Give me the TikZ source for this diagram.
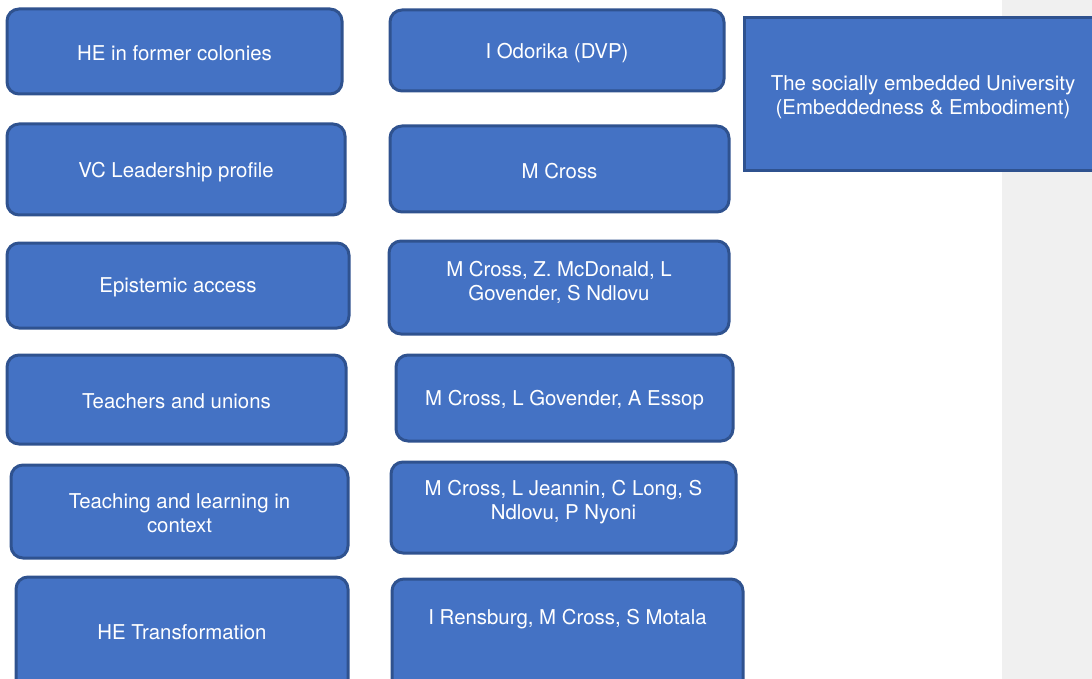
\documentclass[tikz,border=0pt]{standalone}
\usepackage{fontspec}
\setmainfont{TeX Gyre Heros}
\definecolor{boxfill}{HTML}{4472C4}
\definecolor{boxline}{HTML}{2F528F}
\definecolor{sidegray}{HTML}{F0F0F0}
\tikzset{
  rbox/.style={draw=boxline, fill=boxfill, line width=3pt, rounded corners=12pt, inner sep=0pt},
  sbox/.style={draw=boxline, fill=boxfill, line width=3pt, inner sep=0pt},
  txt/.style={text=white, align=center, inner sep=0pt, yshift=-1.5pt, font=\fontsize{20.4}{24}\selectfont}
}
\begin{document}
\begin{tikzpicture}[x=1pt,y=-1pt]
\useasboundingbox (0,0) rectangle (1092,679);
\fill[sidegray] (1002,0) rectangle (1092,679);
% left column
\node[rbox, minimum width=335pt, minimum height=85pt] (l1) at (174.5,51.5) {};
\node[txt] (l1t) at (174.5,52) {HE in former colonies};
\node[rbox, minimum width=338pt, minimum height=91pt] (l2) at (176,169.5) {};
\node[txt] (l2t) at (176,171) {VC Leadership profile};
\node[rbox, minimum width=342pt, minimum height=85pt] (l3) at (178,285.5) {};
\node[txt] (l3t) at (178,286) {Epistemic access};
\node[rbox, minimum width=339pt, minimum height=89pt] (l4) at (176.5,399.5) {};
\node[txt] (l4t) at (176.5,400) {Teachers and unions};
\node[rbox, minimum width=337pt, minimum height=93pt] (l5) at (179.5,511.5) {};
\node[txt] (l5t) at (179.5,512) {Teaching and learning in\\context};
\node[rbox, minimum width=332pt, minimum height=120pt] (l6) at (182,637) {};
\node[txt] (l6t) at (182,631) {HE Transformation};
% middle column
\node[rbox, minimum width=334pt, minimum height=81pt] (m1) at (557,50.5) {};
\node[txt] (m1t) at (557,52) {I Odorika (DVP)};
\node[rbox, minimum width=339pt, minimum height=86pt] (m2) at (559.5,169) {};
\node[txt] (m2t) at (559.5,170) {M Cross};
\node[rbox, minimum width=340pt, minimum height=93pt] (m3) at (559,287.5) {};
\node[txt] (m3t) at (559,281) {M Cross, Z. McDonald, L\\Govender, S Ndlovu};
\node[rbox, minimum width=337pt, minimum height=86pt] (m4) at (564.5,398) {};
\node[txt] (m4t) at (564.5,399) {M Cross, L Govender, A Essop};
\node[rbox, minimum width=345pt, minimum height=91pt] (m5) at (563.5,507.5) {};
\node[txt] (m5t) at (563.5,501) {M Cross, L Jeannin, C Long, S\\Ndlovu, P Nyoni};
\node[rbox, minimum width=351pt, minimum height=120pt] (m6) at (567.5,639) {};
\node[txt] (m6t) at (567.5,618) {I Rensburg, M Cross, S Motala};
% right box
\node[sbox, minimum width=360pt, minimum height=153pt] (r1) at (924,94.5) {};
\node[txt] (r1t) at (923,96) {The socially embedded University\\(Embeddedness \& Embodiment)};
\end{tikzpicture}
\end{document}
